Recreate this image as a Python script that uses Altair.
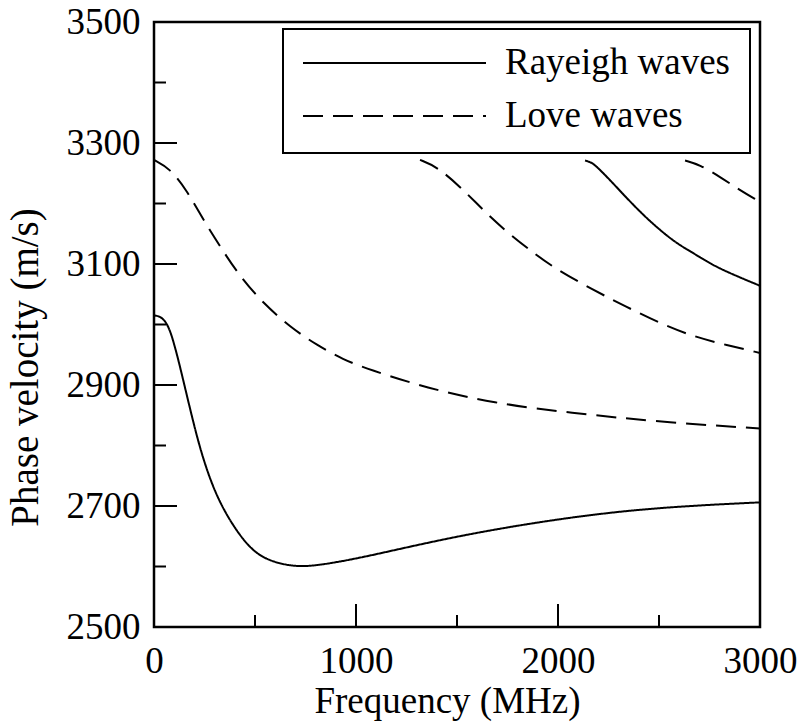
import altair as alt
import pandas as pd

# ---- data ----
wave_types = ["Rayeigh waves", "Love waves"]

ray0_f = [0, 25, 54, 79, 104, 135, 195, 244, 310, 393, 475, 558, 706, 855, 1050, 1515, 2059, 2505, 3000]
ray0_v = [3015, 3014, 3007, 2991, 2963, 2922, 2837, 2776, 2715, 2666, 2630, 2610, 2598, 2604, 2616, 2652, 2682, 2698, 2706]

love0_f = [0, 79, 162, 244, 327, 426, 541, 673, 805, 937, 1061, 1350, 1680, 2059, 2505, 3000]
love0_v = [3272, 3258, 3222, 3173, 3129, 3079, 3035, 2996, 2966, 2942, 2926, 2895, 2870, 2854, 2839, 2828]

love1_f = [1317, 1400, 1515, 1630, 1746, 1861, 1977, 2175, 2340, 2505, 2670, 2835, 3000]
love1_v = [3272, 3261, 3228, 3189, 3153, 3123, 3094, 3057, 3029, 3002, 2980, 2966, 2953]

ray1_f = [2134, 2165, 2192, 2257, 2340, 2422, 2505, 2588, 2670, 2752, 2835, 3000]
ray1_v = [3271, 3268, 3261, 3239, 3209, 3181, 3156, 3134, 3118, 3101, 3087, 3064]

love2_f = [2629, 2703, 2802, 2901, 2983, 3000]
love2_v = [3271, 3264, 3244, 3222, 3206, 3203]

x_major = [0, 1000, 2000, 3000]
x_minor = [500, 1500, 2500]
y_major = [2500, 2700, 2900, 3100, 3300, 3500]
y_minor = [2600, 2800, 3000, 3200, 3400]

curves_spec = [
    ("R0", wave_types[0], ray0_f, ray0_v),
    ("L0", wave_types[1], love0_f, love0_v),
    ("L1", wave_types[1], love1_f, love1_v),
    ("R1", wave_types[0], ray1_f, ray1_v),
    ("L2", wave_types[1], love2_f, love2_v),
]
rows = []
for mode, typ, fs, vs in curves_spec:
    for f, v in zip(fs, vs):
        rows.append({"f": f, "v": v, "mode": mode, "type": typ})
df = pd.DataFrame(rows)

W, H = 606, 605
FONT = "Liberation Serif"
FS = 37

xscale = alt.Scale(domain=[0, 3000], nice=False, zero=False)
yscale = alt.Scale(domain=[2500, 3500], nice=False, zero=False)

x_axis = alt.Axis(values=x_major, title="Frequency (MHz)", format="d",
                  labelPadding=16, labelFlush=False, labelOverlap=False,
                  titleX=293, titleY=85, titleBaseline="alphabetic")
y_axis = alt.Axis(values=y_major, title="Phase velocity (m/s)", format="d",
                  labelPadding=14, labelFlush=False, labelOverlap=False,
                  titleX=-117, titleY=345, titleFontSize=39,
                  titleBaseline="alphabetic")

X = alt.X("f:Q", scale=xscale, axis=x_axis)
Y = alt.Y("v:Q", scale=yscale, axis=y_axis)

curves = alt.Chart(df).mark_line(strokeWidth=2, color="black", interpolate="basis", clip=True).encode(
    x=X,
    y=Y,
    strokeDash=alt.StrokeDash(
        "type:N",
        scale=alt.Scale(domain=wave_types, range=[[1, 0], [20, 10]]),
        legend=alt.Legend(
            title=None, orient="none", legendX=129, legendY=7,
            symbolType="stroke", symbolSize=33489, symbolStrokeWidth=2,
            symbolStrokeColor="black", labelFont=FONT, labelFontSize=FS,
            labelColor="black", labelOffset=18, labelLimit=500, padding=19,
            strokeColor="black", fillColor="white", clipHeight=30, rowPadding=16,
        ),
    ),
    detail="mode:N",
)

xt_major = alt.Chart(pd.DataFrame({"f": x_major})).mark_rule(color="black", strokeWidth=2).encode(
    x=X, y=alt.value(H), y2=alt.value(H - 23))
xt_minor = alt.Chart(pd.DataFrame({"f": x_minor})).mark_rule(color="black", strokeWidth=2).encode(
    x=X, y=alt.value(H), y2=alt.value(H - 12))
yt_major = alt.Chart(pd.DataFrame({"v": y_major})).mark_rule(color="black", strokeWidth=2).encode(
    y=Y, x=alt.value(0), x2=alt.value(23))
yt_minor = alt.Chart(pd.DataFrame({"v": y_minor})).mark_rule(color="black", strokeWidth=2).encode(
    y=Y, x=alt.value(0), x2=alt.value(12))

chart = alt.layer(curves, xt_major, xt_minor, yt_major, yt_minor).properties(
    width=W, height=H,
    padding={"left": 154, "top": 22, "right": 42, "bottom": 99},
    autosize=alt.AutoSizeParams(type="none"),
    background="white",
).configure_view(
    stroke="black", strokeWidth=2.5
).configure_axis(
    domain=False, ticks=False, grid=False,
    labelFont=FONT, labelFontSize=FS, labelColor="black",
    titleFont=FONT, titleFontSize=FS, titleFontWeight="normal", titleColor="black",
).configure_legend(
    strokeWidth=2
)

chart.save("out.html", embed_options={"renderer": "svg", "actions": False})
